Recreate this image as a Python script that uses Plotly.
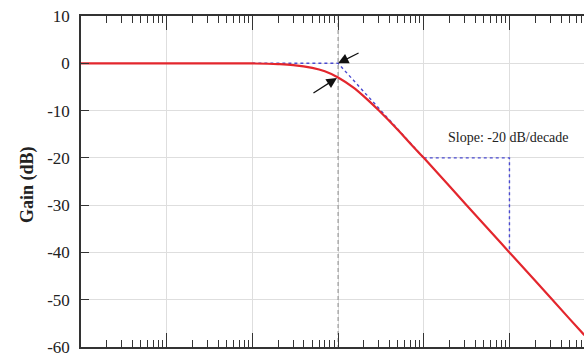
import plotly.graph_objects as go

# Data (normalized frequency f/fc, gain in dB)
freq = [0.001, 0.01, 0.1, 0.2, 0.3, 0.5, 0.7, 1.0, 1.5, 2.0, 3.0, 5.0, 7.0, 10.0, 20.0, 50.0, 100.0, 200.0, 500.0, 750.0]
gain = [0.0, 0.0, -0.04, -0.17, -0.37, -0.97, -1.7, -3.0, -5.1, -7.0, -10.0, -14.1, -17.0, -20.0, -26.0, -34.0, -40.0, -46.0, -54.0, -57.5]

asym_f = [0.1, 1.0, 10.0]
asym_g = [0.0, 0.0, -20.0]

slope_f = [10.0, 100.0, 100.0]
slope_g = [-20.0, -20.0, -40.0]

cutoff_f = [1.0, 1.0]
cutoff_g = [10.0, -60.0]

y_ticks = [10, 0, -10, -20, -30, -40, -50, -60]
slope_label = "Slope: -20 dB/decade"
y_title = "Gain (dB)"

FONT = "Liberation Serif"

fig = go.Figure()

fig.add_trace(go.Scatter(x=cutoff_f, y=cutoff_g, mode="lines",
                         line=dict(color="#8a8a8a", width=1, dash="4px,3px"),
                         hoverinfo="skip", showlegend=False))
fig.add_trace(go.Scatter(x=asym_f, y=asym_g, mode="lines",
                         line=dict(color="#4a4ad0", width=1.4, dash="dot"),
                         showlegend=False))
fig.add_trace(go.Scatter(x=slope_f, y=slope_g, mode="lines",
                         line=dict(color="#4a4ad0", width=1.4, dash="dot"),
                         showlegend=False))
fig.add_trace(go.Scatter(x=freq, y=gain, mode="lines", line_shape="spline",
                         line=dict(color="#e3262d", width=2.2),
                         showlegend=False))

# white patches where text was erased in the original figure
def px2paper_x(px):
    return (px - 81) / 503.0

def py2paper_y(py):
    return (349.3 - py) / 333.6

boxes = [(360, 459, 33, 82), (238, 308, 104, 121), (169, 239, 296, 309), (425, 493, 296, 309)]
for x0, x1, y0, y1 in boxes:
    fig.add_shape(type="rect", xref="paper", yref="paper",
                  x0=px2paper_x(x0), x1=px2paper_x(x1),
                  y0=py2paper_y(y1), y1=py2paper_y(y0),
                  fillcolor="white", line=dict(width=0), layer="between")

# arrows
fig.add_annotation(x=0, y=0, xref="x", yref="y", text="", showarrow=True,
                   ax=22, ay=-11, arrowhead=2, arrowsize=1.6, arrowwidth=1.3,
                   arrowcolor="#111")
fig.add_annotation(x=-0.013, y=-3.1, xref="x", yref="y", text="", showarrow=True,
                   ax=-25, ay=16, arrowhead=2, arrowsize=1.6, arrowwidth=1.3,
                   arrowcolor="#111")

fig.add_annotation(x=px2paper_x(508), y=py2paper_y(138), xref="paper", yref="paper",
                   xanchor="center", yanchor="middle",
                   text=slope_label, showarrow=False,
                   font=dict(family=FONT, size=14, color="#222"))
fig.add_annotation(x=px2paper_x(28), y=py2paper_y(186), xref="paper", yref="paper",
                   xanchor="center", yanchor="middle",
                   text="<b>" + y_title + "</b>", showarrow=False, textangle=-90,
                   font=dict(family=FONT, size=18, color="#222"))

fig.update_xaxes(type="log", range=[-3, 2.87], dtick=1,
                 showgrid=True, gridcolor="#dedede", gridwidth=1,
                 showline=True, linecolor="#333", linewidth=1.5, mirror="ticks",
                 ticks="inside", ticklen=14, tickcolor="#333", tickwidth=1,
                 showticklabels=False, zeroline=False,
                 minor=dict(ticks="inside", ticklen=7, tickcolor="#333", tickwidth=1,
                            dtick="D1", showgrid=False))
fig.update_yaxes(range=[-60, 10], tickvals=y_ticks,
                 ticktext=[str(v) for v in y_ticks],
                 showgrid=True, gridcolor="#dedede", gridwidth=1,
                 showline=True, linecolor="#333", linewidth=1.5, mirror=False,
                 ticks="inside", ticklen=8, tickcolor="#333", tickwidth=1,
                 zeroline=False, ticklabelstandoff=6, ticklabeloverflow="allow",
                 tickfont=dict(family=FONT, size=17, color="#222"))

fig.update_layout(width=584, height=357,
                  margin=dict(l=81, r=0, t=16, b=8),
                  plot_bgcolor="white", paper_bgcolor="white",
                  showlegend=False)

fig.write_html("out.html")
